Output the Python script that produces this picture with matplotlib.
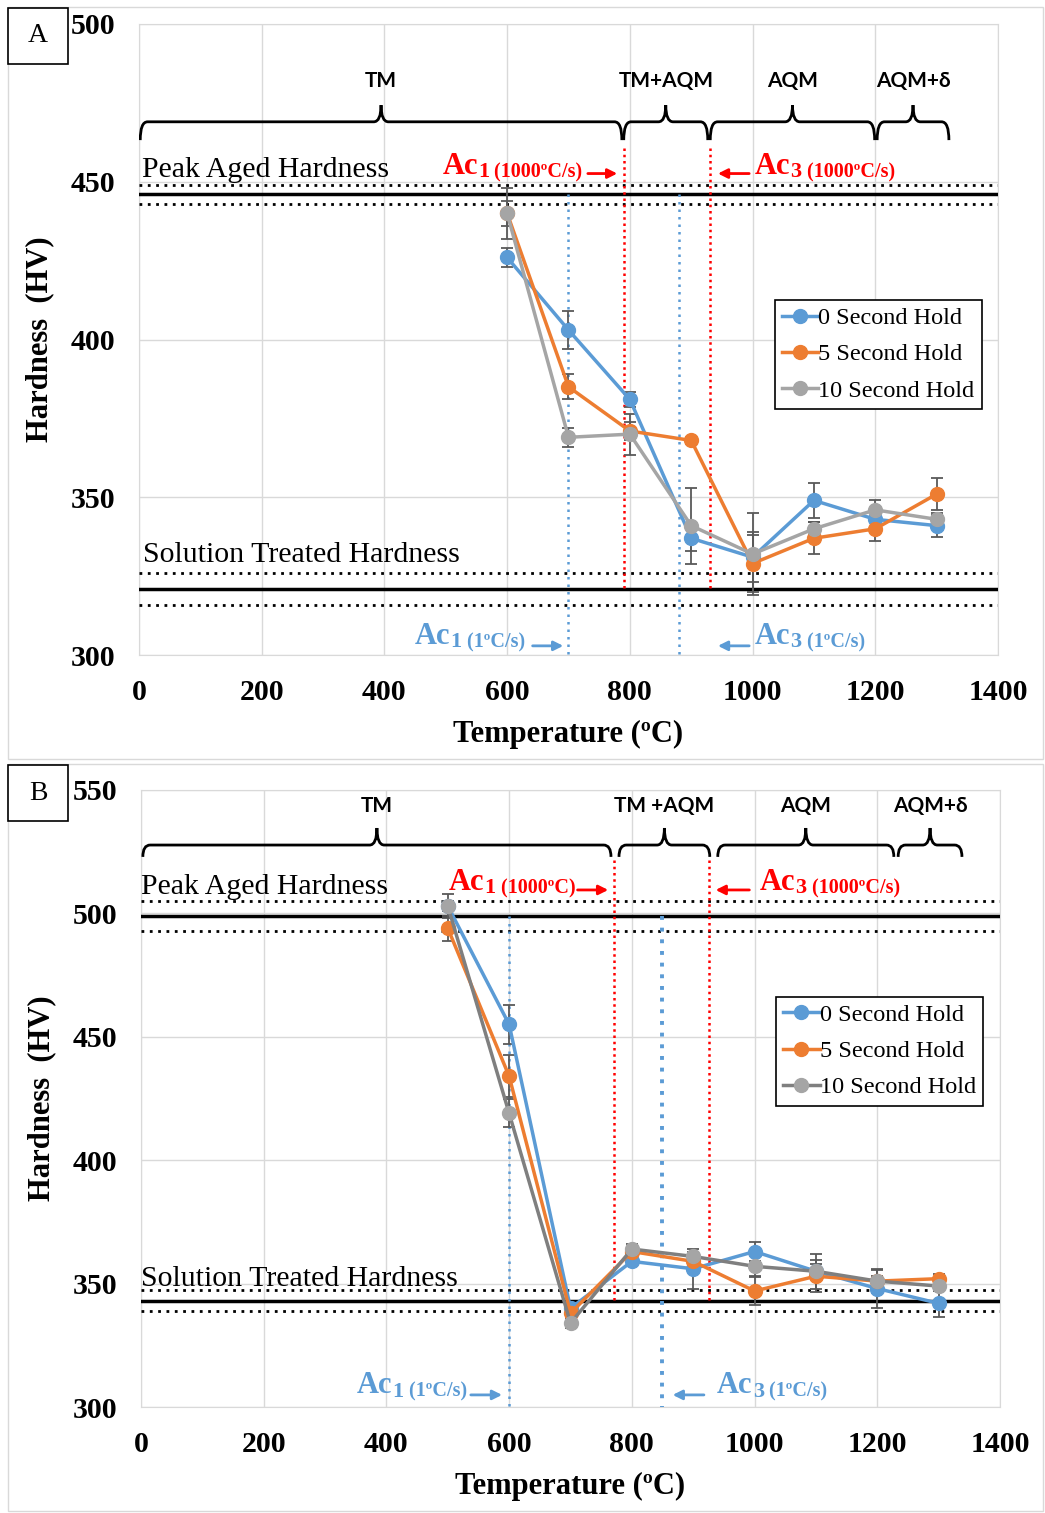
import numpy as np
import matplotlib
matplotlib.use('Agg')
import matplotlib.pyplot as plt
from matplotlib.path import Path
from matplotlib.patches import PathPatch, Rectangle

plt.rcParams['font.family'] = ['Liberation Serif', 'DejaVu Serif']

temp_a = [600, 700, 800, 900, 1000, 1100, 1200, 1300]
hold0_a = [426, 403, 381, 337, 331, 349, 343, 341]
hold5_a = [440, 385, 371, 368, 329, 337, 340, 351]
hold10_a = [440, 369, 370, 341, 332, 340, 346, 343]
err0_a = [3, 6, 2.5, 4, 8, 5.5, 3, 3.5]
err5_a = [4, 4, 3, 1, 9, 5, 4, 5]
err10_a = [8, 3, 6.5, 12, 13, 2, 3, 2]

temp_b = [500, 600, 700, 800, 900, 1000, 1100, 1200, 1300]
hold0_b = [503, 455, 340, 359, 356, 363, 355, 348, 342]
hold5_b = [494, 434, 338, 363, 359, 347, 353, 351, 352]
hold10_b = [503, 419, 334, 364, 361, 357, 355, 351, 349]
err0_b = [2, 8, 2, 2, 8, 4, 7, 7.7, 5.7]
err5_b = [5, 8.5, 2, 2, 2, 5.7, 6.5, 2, 2]
err10_b = [5, 5.7, 2, 2, 2, 4, 3, 5, 2]

labels = ['0 Second Hold', '5 Second Hold', '10 Second Hold']

# reference levels: (centre, half width)
peak_a, solution_a = (446, 3), (321, 5)
peak_b, solution_b = (499, 6), (343, 4.3)

# transformation temperatures
ac_fast_a, ac_slow_a = [790, 930], [699, 880]
ac_fast_b, ac_slow_b = [771, 926], [600, 849]

phases_a = [('TM', 2, 787), ('TM+AQM', 790, 927), ('AQM', 931, 1199), ('AQM+\u03b4', 1203, 1320)]
phases_b = [('TM', 3, 766), ('TM +AQM', 779, 927), ('AQM', 940, 1227), ('AQM+\u03b4', 1234, 1338)]

blue = '#5B9BD5'
orange = '#ED7D31'
grey = '#A5A5A5'
red = '#FF0000'


def brace(ax, x0, x1, ymid, ytip, ypeak, d):
    xc = (x0 + x1) / 2
    verts = [(x0, ytip), (x0, ymid), (x0 + d, ymid), (xc - d, ymid),
             (xc, ymid), (xc, ypeak), (xc, ymid), (xc + d, ymid),
             (x1 - d, ymid), (x1, ymid), (x1, ytip)]
    codes = [Path.MOVETO, Path.CURVE3, Path.CURVE3, Path.LINETO,
             Path.CURVE3, Path.CURVE3, Path.CURVE3, Path.CURVE3,
             Path.LINETO, Path.CURVE3, Path.CURVE3]
    ax.add_patch(PathPatch(Path(verts, codes), fill=False, lw=2, ec='black', zorder=4))


def ac_label(ax, x, y, num, rate, color):
    t = ax.text(x, y, 'Ac', color=color, fontsize=22, fontweight='bold', va='baseline')
    t2 = ax.annotate(num, xy=(1, 0), xycoords=t, xytext=(0, -1), textcoords='offset points',
                     color=color, fontsize=16, fontweight='bold', va='bottom')
    ax.annotate(' ' + rate, xy=(1, 0), xycoords=t2, color=color, fontsize=14.5,
                fontweight='bold', va='bottom')


def arrow(ax, x0, x1, y, color):
    ax.annotate('', xy=(x1, y), xytext=(x0, y),
                arrowprops=dict(arrowstyle='-|>', color=color, lw=2, mutation_scale=14))


def panel(ax, temp, series, errs, peak, solution, fast, slow, ylim, yticks,
          phases, brace_y, label_y, txt, dark_grey):
    ymid, ytip, ypeak = brace_y
    colors = [blue, orange, dark_grey]
    faces = [blue, orange, grey]
    for vals, err, c, f, lab in zip(series, errs, colors, faces, labels):
        ax.errorbar(temp, vals, yerr=err, fmt='none', ecolor='#595959', elinewidth=1.3,
                    capsize=4, capthick=1.3, zorder=4.5)
        ax.plot(temp, vals, color=c, lw=2.5, marker='o', ms=10, mfc=f, mec=f,
                label=lab, zorder=5)
    for c, w in [peak, solution]:
        ax.axhline(c, color='black', lw=2.5, zorder=3)
        ax.axhline(c + w, color='black', lw=2, ls=(0, (1, 2)), zorder=3)
        ax.axhline(c - w, color='black', lw=2, ls=(0, (1, 2)), zorder=3)
    for xv in fast:
        ax.plot([xv, xv], [txt['red_top'], solution[0]], color=red, lw=1.8,
                ls=(0, (1, 1.5)), zorder=3)
    for i, xv in enumerate(slow):
        ax.plot([xv, xv], [peak[0], ylim[0]], color=blue, lw=txt['blue_lw'][i],
                ls=(0, (1, 2)), zorder=3)
    for name, x0, x1 in phases:
        brace(ax, x0, x1, ymid, ytip, ypeak, 12)
        ax.text((x0 + x1) / 2, label_y, name, ha='center', va='center',
                fontsize=15, fontweight='bold', family='Lato')
    ax.text(txt['peak'][0], txt['peak'][1], 'Peak Aged Hardness', fontsize=21.5, va='baseline')
    ax.text(txt['sol'][0], txt['sol'][1], 'Solution Treated Hardness', fontsize=21.5, va='baseline')
    ac_label(ax, txt['ac1f'][0], txt['ac1f'][1], '1', txt['ac1f_rate'], red)
    ac_label(ax, txt['ac3f'][0], txt['ac3f'][1], '3', '(1000\u00baC/s)', red)
    ac_label(ax, txt['ac1s'][0], txt['ac1s'][1], '1', '(1\u00baC/s)', blue)
    ac_label(ax, txt['ac3s'][0], txt['ac3s'][1], '3', '(1\u00baC/s)', blue)
    for (x0, x1, y), c in zip(txt['arrows'], [red, red, blue, blue]):
        arrow(ax, x0, x1, y, c)

    ax.set_xlim(0, 1400)
    ax.set_ylim(*ylim)
    ax.set_xticks(np.arange(0, 1401, 200))
    ax.set_yticks(yticks)
    ax.grid(True, color='#D9D9D9', lw=1)
    ax.set_axisbelow(True)
    for s in ax.spines.values():
        s.set_color('#D9D9D9')
    ax.tick_params(length=0, labelsize=21.5, pad=17)
    for lab in ax.get_xticklabels() + ax.get_yticklabels():
        lab.set_fontweight('bold')
    ax.set_xlabel('Temperature (\u00baC)', fontsize=22, fontweight='bold', labelpad=10)
    ax.set_ylabel('Hardness  (HV)', fontsize=22, fontweight='bold', labelpad=12)
    leg = ax.legend(loc='upper left', bbox_to_anchor=txt['leg'], fontsize=17.5,
                    frameon=True, fancybox=False, edgecolor='black', framealpha=1,
                    handlelength=1.5, handletextpad=0.0, labelspacing=0.58,
                    borderpad=0.3, borderaxespad=0)
    leg.get_frame().set_linewidth(1.2)


fig = plt.figure(figsize=(10.45, 15.13), dpi=100)
W, H = 1045, 1513

ax_a = fig.add_axes([139 / W, 1 - 655 / H, 859 / W, 631 / H])
ax_b = fig.add_axes([141 / W, 1 - 1407 / H, 859 / W, 617 / H])

txt_a = dict(red_top=460.7, blue_lw=[1.8, 1.8], peak=(5, 451.5), sol=(7, 329.5),
             ac1f=(495, 452.5), ac1f_rate='(1000\u00baC/s)', ac3f=(1004, 452.5),
             ac1s=(450, 303.5), ac3s=(1004, 303.5),
             arrows=[(727, 784, 452.6), (999, 939, 452.6), (637, 696, 302.9), (999, 939, 302.9)],
             leg=(0.740, 0.5626))
txt_b = dict(red_top=521.6, blue_lw=[1.8, 2.8], peak=(0, 508), sol=(0, 349),
             ac1f=(502, 509.5), ac1f_rate='(1000\u00baC)', ac3f=(1009, 509.5),
             ac1s=(352, 305.5), ac3s=(939, 305.5),
             arrows=[(707, 766, 509.5), (996, 932, 509.5), (533, 593, 304.9), (922, 862, 304.9)],
             leg=(0.739, 0.665))

panel(ax_a, temp_a, [hold0_a, hold5_a, hold10_a], [err0_a, err5_a, err10_a],
      peak_a, solution_a, ac_fast_a, ac_slow_a, (300, 500), np.arange(300, 501, 50),
      phases_a, (469, 463.2, 474.3), 482, txt_a, grey)
panel(ax_b, temp_b, [hold0_b, hold5_b, hold10_b], [err0_b, err5_b, err10_b],
      peak_b, solution_b, ac_fast_b, ac_slow_b, (300, 550), np.arange(300, 551, 50),
      phases_b, (527.7, 522.9, 534.6), 543.5, txt_b, '#7F7F7F')

# panel frames and letters
for y0, y1, letter, by in [(7, 759, 'A', 8), (764, 1511, 'B', 765)]:
    fig.add_artist(Rectangle((8 / W, 1 - y1 / H), 1035 / W, (y1 - y0) / H,
                             transform=fig.transFigure, fill=False, ec='#D9D9D9', lw=1))
    fig.add_artist(Rectangle((8 / W, 1 - (by + 56) / H), 60 / W, 56 / H,
                             transform=fig.transFigure, fill=True, fc='white', ec='black', lw=1.2))
    fig.text(38 / W, 1 - (by + 28) / H, letter, fontsize=20, ha='center', va='center')

fig.savefig('out.png', dpi=100)
